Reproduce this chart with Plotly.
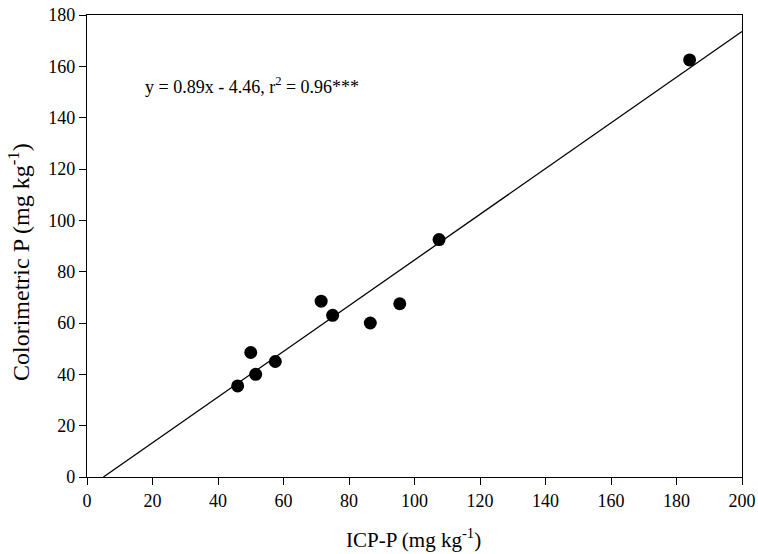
import plotly.graph_objects as go

icp_p = [46, 50, 51.5, 57.5, 71.5, 75, 86.5, 95.5, 107.5, 184]
color_p = [35.5, 48.5, 40, 45, 68.5, 63, 60, 67.5, 92.5, 162.5]
slope = 0.89
intercept = -4.46
line_x = [-intercept / slope, 200]
line_y = [slope * x + intercept for x in line_x]

font = "Liberation Serif, Times New Roman, serif"

# plot area targeted at page x 87..742, y 15..477 (body margin removed)
W, H = 758, 554
ML, MR, MT, MB = 87, 16, 15, 77
pw, ph = W - ML - MR, H - MT - MB


def px(page_x):
    return (page_x - ML) / pw


def py(page_y):
    return (H - MB - page_y) / ph


fig = go.Figure()
fig.add_trace(go.Scatter(x=line_x, y=line_y, mode="lines",
                         line=dict(color="black", width=1.3), showlegend=False,
                         cliponaxis=False))
fig.add_trace(go.Scatter(x=icp_p, y=color_p, mode="markers",
                         marker=dict(color="black", size=13), showlegend=False,
                         cliponaxis=False))

fig.add_annotation(x=17, y=152.5, xref="x", yref="y", xanchor="left", yanchor="middle",
                   text="y = 0.89x - 4.46, r<sup>2</sup> = 0.96***", showarrow=False,
                   font=dict(family=font, size=18, color="black"))

fig.add_annotation(x=px(413), y=py(538), xref="paper", yref="paper", showarrow=False,
                   xanchor="center", yanchor="middle",
                   text="ICP-P (mg kg<sup>-1</sup>)",
                   font=dict(family=font, size=21, color="black"))
fig.add_annotation(x=px(19), y=py(262), xref="paper", yref="paper", showarrow=False,
                   xanchor="center", yanchor="middle",
                   textangle=-90, text="Colorimetric P (mg kg<sup>-1</sup>)",
                   font=dict(family=font, size=24, color="black"))

axis_common = dict(showgrid=False, zeroline=False, showline=True, linecolor="black",
                   linewidth=1.3, mirror=True, ticks="outside", ticklen=7,
                   tickcolor="black", tickwidth=1.2, automargin=False,
                   tickfont=dict(family=font, size=18, color="black"))

fig.update_layout(
    width=W, height=H,
    margin=dict(l=ML, r=MR, t=MT, b=MB),
    plot_bgcolor="white", paper_bgcolor="white",
    xaxis=dict(range=[0, 200], dtick=20, tick0=0, **axis_common),
    yaxis=dict(range=[0, 180], dtick=20, tick0=0, **axis_common),
)

fig.write_html("out.html", config={"displayModeBar": False},
               post_script="document.body.style.margin='0';document.body.style.overflow='hidden';")
